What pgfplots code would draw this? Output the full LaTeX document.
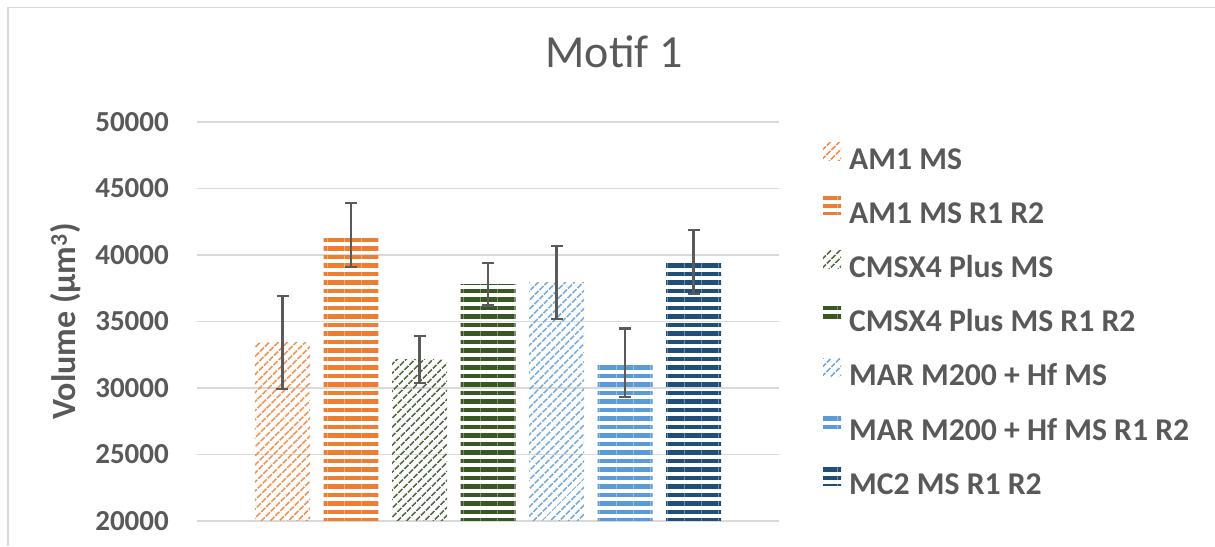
\documentclass[border=0pt]{standalone}
\usepackage{pgfplots}
\pgfplotsset{compat=1.18}
\usetikzlibrary{patterns.meta}
\usepackage{fontspec}
\setmainfont{Carlito}
\definecolor{txt}{HTML}{595959}
\definecolor{grd}{HTML}{D9D9D9}
\definecolor{orng}{HTML}{ED7D31}
\definecolor{dgrn}{HTML}{385723}
\definecolor{lblu}{HTML}{5B9BD5}
\definecolor{dblu}{HTML}{1F4E79}
\definecolor{errc}{HTML}{5A5A5A}
\tikzset{
  diag/.style={draw=none, pattern={Lines[angle=45,distance=6.4pt,line width=2pt]}, pattern color=#1},
  horz/.style={draw=none, pattern={Lines[angle=0,distance=8.5pt,line width=4.4pt]}, pattern color=#1},
}
\begin{document}
\begin{tikzpicture}
\path[use as bounding box] (0,0) rectangle (1215pt,546pt);
\begin{axis}[
  at={(197pt,25pt)}, anchor=south west,
  scale only axis, width=582pt, height=399pt,
  ybar=13.5pt, bar width=55pt,
  xmin=-1, xmax=1, xtick=\empty,
  ymin=20000, ymax=50000, ytick={20000,25000,...,50000},
  scaled y ticks=false,
  ymajorgrids, major grid style={grd, line width=1.5pt},
  axis line style={draw=none}, major tick length=0pt,
  /pgf/number format/assume math mode=true,
  /pgf/number format/.cd, 1000 sep={}, /pgfplots/.cd,
  yticklabel style={font=\fontsize{29}{30}\selectfont\bfseries, text=txt, inner sep=0pt, xshift=-28pt},
  ylabel={Volume (µm\textsuperscript{3})},
  every axis y label/.style={at={(axis description cs:-0.225,0.5)}, rotate=90, anchor=center, font=\fontsize{34}{38}\selectfont\bfseries, text=txt},
  title={Motif 1},
  title style={at={(axis description cs:0.7165,1.1228)}, anchor=base, font=\fontsize{46}{50}\selectfont, text=txt},
  legend cell align=left,
  legend image code/.code={\path[#1] (0pt,-1pt) rectangle (18pt,17pt);},
  legend style={at={(1.0756,0.95)}, anchor=north west, draw=none, fill=none, inner sep=0pt,
    font=\fontsize{31.7}{32}\selectfont\bfseries, text=txt, row sep=27.2pt,
    nodes={inner sep=0pt, text height=20pt, text depth=0pt},
    /tikz/every odd column/.append style={column sep=8pt}},
  error bars/error bar style={errc, line width=2.2pt},
  error bars/error mark options={errc, rotate=90, mark size=6pt, line width=2.2pt},
]
\addplot[diag=orng!85, error bars/.cd, y dir=both, y explicit] coordinates {(0,33400) +- (0,3500)};
\addlegendentry{AM1 MS}
\addplot[horz=orng, error bars/.cd, y dir=both, y explicit] coordinates {(0,41500) +- (0,2400)};
\addlegendentry{AM1 MS R1 R2}
\addplot[diag=dgrn!85, error bars/.cd, y dir=both, y explicit] coordinates {(0,32150) +- (0,1750)};
\addlegendentry{CMSX4 Plus MS}
\addplot[horz=dgrn, error bars/.cd, y dir=both, y explicit] coordinates {(0,37800) +- (0,1600)};
\addlegendentry{CMSX4 Plus MS R1 R2}
\addplot[diag=lblu!85, error bars/.cd, y dir=both, y explicit] coordinates {(0,37925) +- (0,2725)};
\addlegendentry{MAR M200 + Hf MS}
\addplot[horz=lblu, error bars/.cd, y dir=both, y explicit] coordinates {(0,31900) +- (0,2575)};
\addlegendentry{MAR M200 + Hf MS R1 R2}
\addplot[horz=dblu, error bars/.cd, y dir=both, y explicit] coordinates {(0,39475) +- (0,2425)};
\addlegendentry{MC2 MS R1 R2}
\end{axis}
\draw[grd, line width=1.3pt] (8pt,0pt) -- (8pt,538.5pt) -- (1215pt,538.5pt);
\end{tikzpicture}
\end{document}
